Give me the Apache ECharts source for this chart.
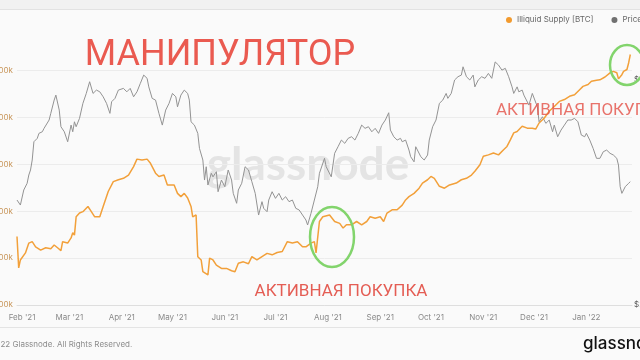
<!DOCTYPE html>
<html><head><meta charset="utf-8">
<script src="https://cdn.jsdelivr.net/npm/echarts@6/dist/echarts.min.js"></script>
<style>html,body{margin:0;padding:0;background:#fafafa}#c{width:640px;height:360px}</style>
</head><body><div id="c"></div>
<script>
const monthNames = ['Jan','Feb','Mar','Apr','May','Jun','Jul','Aug','Sep','Oct','Nov','Dec'];
const seriesNames = ['Illiquid Supply [BTC]', 'Price [USD]'];
const supplyDates = ['2021-01-29','2021-01-30','2021-01-31','2021-02-03','2021-02-05','2021-02-07','2021-02-09','2021-02-12','2021-02-15','2021-02-18','2021-02-20','2021-02-22','2021-02-24','2021-02-25','2021-02-28','2021-03-02','2021-03-03','2021-03-04','2021-03-05','2021-03-07','2021-03-09','2021-03-12','2021-03-14','2021-03-16','2021-03-19','2021-03-21','2021-03-24','2021-03-27','2021-03-30','2021-04-02','2021-04-05','2021-04-08','2021-04-10','2021-04-13','2021-04-16','2021-04-18','2021-04-21','2021-04-23','2021-04-26','2021-04-28','2021-05-02','2021-05-04','2021-05-06','2021-05-08','2021-05-10','2021-05-12','2021-05-13','2021-05-15','2021-05-16','2021-05-18','2021-05-19','2021-05-20','2021-05-22','2021-05-23','2021-05-25','2021-05-27','2021-05-30','2021-06-02','2021-06-05','2021-06-07','2021-06-09','2021-06-12','2021-06-15','2021-06-17','2021-06-20','2021-06-23','2021-06-26','2021-06-29','2021-07-02','2021-07-05','2021-07-08','2021-07-11','2021-07-14','2021-07-17','2021-07-19','2021-07-22','2021-07-24','2021-07-25','2021-07-27','2021-07-29','2021-08-02','2021-08-03','2021-08-05','2021-08-08','2021-08-10','2021-08-12','2021-08-15','2021-08-18','2021-08-21','2021-08-24','2021-08-26','2021-08-29','2021-09-01','2021-09-03','2021-09-05','2021-09-08','2021-09-11','2021-09-14','2021-09-16','2021-09-18','2021-09-21','2021-09-24','2021-09-26','2021-09-29','2021-10-01','2021-10-03','2021-10-06','2021-10-09','2021-10-12','2021-10-16','2021-10-19','2021-10-22','2021-10-25','2021-10-27','2021-10-30','2021-11-01','2021-11-04','2021-11-07','2021-11-10','2021-11-13','2021-11-15','2021-11-17','2021-11-19','2021-11-21','2021-11-24','2021-11-27','2021-11-30','2021-12-02','2021-12-04','2021-12-07','2021-12-10','2021-12-13','2021-12-16','2021-12-19','2021-12-22','2021-12-25','2021-12-28','2021-12-30','2022-01-02','2022-01-04','2022-01-07','2022-01-09','2022-01-12','2022-01-15','2022-01-17','2022-01-19','2022-01-20','2022-01-22','2022-01-23','2022-01-25','2022-01-26','2022-01-27'];
const supplyValues = [14546,14479,14496,14511,14532,14535,14524,14517,14522,14520,14528,14522,14516,14535,14532,14543,14554,14549,14588,14596,14599,14610,14599,14588,14588,14610,14642,14663,14667,14670,14677,14695,14711,14709,14711,14702,14681,14674,14677,14656,14656,14638,14631,14638,14628,14610,14588,14592,14503,14496,14471,14475,14464,14500,14496,14485,14478,14478,14473,14471,14489,14492,14488,14503,14496,14503,14510,14507,14512,14514,14535,14532,14535,14524,14524,14532,14535,14511,14578,14588,14592,14596,14578,14574,14564,14571,14571,14578,14571,14578,14588,14585,14588,14578,14596,14603,14603,14613,14624,14631,14638,14649,14660,14667,14674,14670,14653,14649,14656,14660,14667,14670,14677,14685,14699,14717,14720,14724,14720,14731,14738,14752,14767,14770,14781,14777,14777,14775,14788,14798,14813,14823,14834,14838,14845,14848,14859,14866,14870,14877,14879,14880,14886,14895,14898,14895,14882,14891,14898,14902,14916,14934];
const priceDates = ['2021-01-29','2021-01-31','2021-02-02','2021-02-04','2021-02-05','2021-02-06','2021-02-07','2021-02-08','2021-02-10','2021-02-11','2021-02-13','2021-02-14','2021-02-15','2021-02-17','2021-02-18','2021-02-20','2021-02-21','2021-02-23','2021-02-24','2021-02-26','2021-02-28','2021-03-02','2021-03-03','2021-03-04','2021-03-05','2021-03-07','2021-03-09','2021-03-11','2021-03-13','2021-03-15','2021-03-17','2021-03-19','2021-03-21','2021-03-23','2021-03-25','2021-03-26','2021-03-28','2021-03-30','2021-04-02','2021-04-04','2021-04-06','2021-04-08','2021-04-10','2021-04-12','2021-04-14','2021-04-16','2021-04-17','2021-04-19','2021-04-21','2021-04-23','2021-04-25','2021-04-27','2021-04-29','2021-05-01','2021-05-03','2021-05-04','2021-05-06','2021-05-07','2021-05-08','2021-05-10','2021-05-11','2021-05-12','2021-05-14','2021-05-16','2021-05-17','2021-05-19','2021-05-20','2021-05-21','2021-05-22','2021-05-24','2021-05-25','2021-05-27','2021-05-28','2021-05-30','2021-06-01','2021-06-03','2021-06-05','2021-06-06','2021-06-08','2021-06-09','2021-06-11','2021-06-13','2021-06-15','2021-06-17','2021-06-18','2021-06-19','2021-06-21','2021-06-23','2021-06-24','2021-06-26','2021-06-27','2021-06-29','2021-07-01','2021-07-03','2021-07-05','2021-07-07','2021-07-09','2021-07-11','2021-07-13','2021-07-15','2021-07-17','2021-07-19','2021-07-20','2021-07-22','2021-07-24','2021-07-26','2021-07-27','2021-07-30','2021-07-31','2021-08-03','2021-08-05','2021-08-07','2021-08-09','2021-08-11','2021-08-13','2021-08-15','2021-08-17','2021-08-19','2021-08-21','2021-08-23','2021-08-25','2021-08-27','2021-08-29','2021-08-31','2021-09-02','2021-09-04','2021-09-06','2021-09-07','2021-09-09','2021-09-11','2021-09-13','2021-09-14','2021-09-16','2021-09-18','2021-09-19','2021-09-21','2021-09-22','2021-09-23','2021-09-25','2021-09-27','2021-09-29','2021-09-30','2021-10-02','2021-10-04','2021-10-06','2021-10-08','2021-10-10','2021-10-11','2021-10-13','2021-10-15','2021-10-17','2021-10-19','2021-10-20','2021-10-22','2021-10-24','2021-10-26','2021-10-27','2021-10-29','2021-10-31','2021-11-02','2021-11-04','2021-11-06','2021-11-08','2021-11-10','2021-11-12','2021-11-14','2021-11-16','2021-11-18','2021-11-19','2021-11-21','2021-11-22','2021-11-24','2021-11-25','2021-11-28','2021-11-30','2021-12-01','2021-12-03','2021-12-04','2021-12-06','2021-12-08','2021-12-10','2021-12-12','2021-12-13','2021-12-15','2021-12-17','2021-12-19','2021-12-21','2021-12-23','2021-12-25','2021-12-27','2021-12-29','2021-12-31','2022-01-01','2022-01-03','2022-01-05','2022-01-07','2022-01-09','2022-01-11','2022-01-13','2022-01-15','2022-01-17','2022-01-19','2022-01-20','2022-01-21','2022-01-22','2022-01-24','2022-01-26','2022-01-27'];
const priceValues = [32860,32070,34510,35660,37130,38050,39950,43680,44410,45510,45860,46630,46240,48560,50170,53530,54850,50980,47000,45860,43680,47380,45860,48150,47000,48960,52680,55300,58550,55300,56210,55740,54400,52680,50170,53100,53980,56210,56680,55740,56680,54400,55740,58080,60480,59530,57100,53980,53530,50170,47380,50980,52680,55300,54400,51800,54850,55300,56210,55300,53530,48150,47380,45510,42280,39950,36230,38660,35360,37440,36800,37740,34220,36230,35070,38050,36230,33950,32340,34510,35660,38660,38050,35940,36230,33950,30540,32600,31560,31040,32860,34220,33130,33950,32860,33400,32600,32860,31560,31300,30540,29810,29090,30790,32860,35070,37440,40280,38660,36800,41280,42630,44040,43340,44410,44760,44040,45510,47380,46630,47000,45860,46630,45510,47380,48560,50320,46240,44760,44040,44410,43680,44040,41940,40600,39600,42630,42980,40600,39950,40930,44040,47000,48560,52680,53530,55300,53980,55300,59050,60000,60480,62980,60000,59050,60480,57100,59050,60000,59530,60970,59530,64500,63500,61970,62500,60000,57100,55300,57100,55740,56210,54850,52240,55300,54850,51800,48150,49350,47780,48560,45860,47380,44760,46240,47380,48560,48560,48960,48150,45130,44760,45510,44040,42280,40280,40280,41600,41940,41280,40930,40280,38980,35070,33950,35070,35660,35940];

const supplyData = supplyDates.map((d, i) => [d, supplyValues[i]]);
const priceData = priceDates.map((d, i) => [d, priceValues[i]]);

const chart = echarts.init(document.getElementById('c'), null, {renderer: 'canvas'});
chart.setOption({
  animation: false,
  backgroundColor: '#fafafa',
  textStyle: {fontFamily: 'Inter, Roboto, sans-serif'},
  legend: {
    data: seriesNames,
    left: 506, top: 16, width: 400, padding: 0,
    icon: 'circle', itemWidth: 6, itemHeight: 6, itemGap: 18,
    textStyle: {fontSize: 8, color: '#666', fontFamily: 'Inter, sans-serif'}
  },
  grid: {left: 17, right: 8, top: 47, bottom: 55, containLabel: false, outerBoundsMode: 'none'},
  xAxis: {
    type: 'time',
    min: '2021-01-29', max: '2022-01-28',
    splitNumber: 12,
    axisLine: {show: true, lineStyle: {color: '#dedede'}},
    axisTick: {show: false},
    splitLine: {show: false},
    axisLabel: {
      color: '#8a8a8a', fontSize: 8, margin: 9, hideOverlap: false,
      formatter: function (v) {
        const d = new Date(v);
        return monthNames[d.getMonth()] + " '" + String(d.getFullYear()).slice(2);
      }
    }
  },
  yAxis: [
    {
      type: 'value', min: 14400, max: 14950, interval: 100,
      axisLine: {show: false}, axisTick: {show: false},
      splitLine: {show: true, showMaxLine: false, lineStyle: {color: '#ececec'}},
      axisLabel: {
        color: '#c8965a', fontSize: 8, margin: 4, showMaxLabel: false,
        formatter: v => v.toLocaleString('en-US') + 'k'
      }
    },
    {
      type: 'log', logBase: 3, min: 19683, max: 69370,
      position: 'right',
      axisLine: {show: false}, axisTick: {show: false}, splitLine: {show: false},
      axisLabel: {
        color: '#555', fontSize: 8, margin: 2, showMaxLabel: false,
        formatter: v => '$' + Math.round(v / 10000) * 10 + 'k'
      }
    }
  ],
  series: [
    {
      name: seriesNames[1], type: 'line', yAxisIndex: 1, data: priceData,
      showSymbol: false, z: 2,
      itemStyle: {color: '#707070'},
      lineStyle: {color: '#939393', width: 1}
    },
    {
      name: seriesNames[0], type: 'line', yAxisIndex: 0, data: supplyData,
      showSymbol: false, z: 3,
      itemStyle: {color: '#f29a2e'},
      lineStyle: {color: '#f2a03a', width: 1.5}
    }
  ],
  graphic: [
    {type: 'rect', z: 0, shape: {x: 0, y: 0, width: 640, height: 9}, style: {fill: '#f1f1f1'}},
    {type: 'line', z: 0, shape: {x1: 0, y1: 9.5, x2: 640, y2: 9.5}, style: {stroke: '#e2e2e2', lineWidth: 1}},
    {type: 'line', z: 0, shape: {x1: 0, y1: 327.5, x2: 640, y2: 327.5}, style: {stroke: '#e4e4e4', lineWidth: 1}},
    {type: 'text', z: 0, x: 308, y: 165, style: {text: 'glassnode', fill: '#e4e4e4', font: 'bold 46px Lato, sans-serif', align: 'center', verticalAlign: 'middle'}},
    {type: 'text', z: 100, x: -19, y: 345, style: {text: '© 2022 Glassnode. All Rights Reserved.', fill: '#8c8c8c', font: '8px Inter, sans-serif', align: 'left', verticalAlign: 'middle'}},
    {type: 'text', z: 100, x: 583, y: 344, style: {text: 'glassnode', fill: '#111', font: '500 17px Inter, sans-serif', align: 'left', verticalAlign: 'middle'}},
    {type: 'text', z: 100, x: 220, y: 56, style: {text: 'МАНИПУЛЯТОР', fill: '#ea5a50', font: '36px Roboto, sans-serif', align: 'center', verticalAlign: 'middle'}},
    {type: 'text', z: 100, x: 341, y: 292, style: {text: 'АКТИВНАЯ ПОКУПКА', fill: '#e45d54', font: '17px Roboto, sans-serif', align: 'center', verticalAlign: 'middle'}},
    {type: 'text', z: 100, x: 496, y: 111, style: {text: 'АКТИВНАЯ ПОКУПКА', fill: 'rgba(228,84,74,0.82)', font: '17px Roboto, sans-serif', align: 'left', verticalAlign: 'middle'}},
    {type: 'ellipse', z: 100, shape: {cx: 332, cy: 237, rx: 22, ry: 30}, style: {fill: 'none', stroke: '#82d46c', lineWidth: 2.5}},
    {type: 'ellipse', z: 100, shape: {cx: 627, cy: 65, rx: 17, ry: 20}, style: {fill: 'none', stroke: '#82d46c', lineWidth: 2.5}}
  ]
});
</script>
</body></html>
